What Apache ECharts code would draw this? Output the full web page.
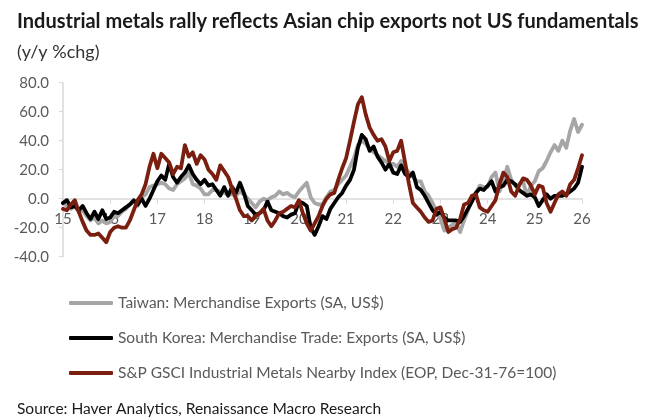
<!DOCTYPE html>
<html>
<head>
<meta charset="utf-8">
<script src="https://cdn.jsdelivr.net/npm/echarts@6/dist/echarts.min.js"></script>
<style>
  html, body { margin: 0; padding: 0; background: #fff; }
  #chart { width: 653px; height: 417px; }
</style>
</head>
<body>
<div id="chart"></div>
<script>
// monthly, Jan 2015 .. Jan 2026
const taiwan = [
  -3, -5, -7, -5, -9, -8, -12, -15, -13, -17, -15, -17,
  -16, -12, -12, -9, -7, -4, -2, -5, 1, 3, 8, 9,
  10, 11, 10, 7, 6, 10, 12, 14, 18, 10, 9, 7,
  3, 3, 6, 6, 5, 4, 3, 3, 2, 5, 3, 0,
  -3, -6, -2, 0, -1, 1, 2, 5, 3, 4, 2, 1,
  5, 8, 11, 1, -3, -4, -4, 1, 5, 6, 10, 13,
  16, 22, 28, 37, 40, 38, 34, 32, 30, 28, 26, 24,
  24, 22, 26, 21, 18, 15, 12, 12, 5, 2, -3, -9,
  -14, -22, -20, -18, -17, -23, -15, -8, -1, 4, 9, 8,
  8, 15, 18, 5, 12, 22, 13, 9, 10, 12, 2, 9,
  12, 19, 21, 26, 32, 37, 33, 40, 35, 47, 55, 46,
  51
];
const korea = [
  -3, -1, -6, -5, -8, -5, -10, -14, -9, -14, -8, -14,
  -13, -9, -10, -8, -6, -4, -1, -4, 0, -5, 0, 6,
  12, 16, 13, 24, 15, 11, 15, 18, 23, 17, 13, 10,
  13, 9, 10, 6, 2, 8, 2, 8, 4, 11, 4, -5,
  -8, -11, -10, -8, -2, -8, -9, -10, -12, -13, -11, -10,
  -2, -3, -5, -20, -25, -19, -12, -14, -7, -3, 1, 4,
  9, 13, 20, 35, 44, 41, 33, 36, 29, 25, 20, 24,
  18, 17, 23, 17, 15, 18, 8, 6, 2, -3, -8, -11,
  -9, -13, -15, -15, -15, -16, -12, -7, -2, 4, 7, 6,
  9, 12, 5, 8, 9, 13, 12, 10, 6, 4, 2, 3,
  1, -5, -1, 3, 0, 2, 2, 2, 3, 5, 7, 11,
  22
];
const metals = [
  -7, -8, -4, -1, -9, -16, -22, -25, -25, -24, -27, -30,
  -23, -20, -19, -20, -20, -15, -8, -1, 3, 10, 22, 31,
  21, 31, 28, 25, 17, 22, 21, 37, 29, 32, 24, 30,
  27, 20, 17, 13, 23, 19, 15, 7, 0, -8, -12, -12,
  -15, -12, -10, -7, -15, -19, -15, -10, -9, -7, -5, -6,
  -1, -10, -17, -22, -17, -12, -5, 0, 3, 4, 13, 21,
  28, 40, 53, 65, 70, 58, 49, 44, 40, 41, 36, 26,
  32, 33, 40, 25, 10, -3, -6, -9, -13, -16, -15, -7,
  -6, -14, -23, -21, -20, -14, -4, -3, 2, 3, -6, -8,
  -9, -5, -1, 10, 18, 15, 5, 2, 9, 14, 13, 9,
  3, 9, 8, -3, -9, -3, 3, 5, 2, 10, 13, 21,
  30
];

const months = [];
for (let y = 2015; y <= 2026; y++) {
  for (let m = 1; m <= 12; m++) {
    if (y === 2026 && m > 1) break;
    months.push(y + "-" + (m < 10 ? "0" + m : m));
  }
}

const yMin = -40, yMax = 80, yStep = 20;

const seriesNames = [
  "Taiwan: Merchandise Exports (SA, US$)",
  "South Korea: Merchandise Trade: Exports (SA, US$)",
  "S&P GSCI Industrial Metals Nearby Index (EOP, Dec-31-76=100)",
];
const seriesColors = ["#a6a6a6", "#000000", "#7a1f10"];

const FONT = "Lato";
const chart = echarts.init(document.getElementById("chart"), null, { renderer: "canvas" });

const isJan = (idx) => idx % 12 === 0;

// plot area
const gridTop = 82.7, gridBottom = 160.3;
const plotH = 417 - gridTop - gridBottom;
// move the category axis up to the zero line (onZero is not honoured here)
const zeroOffset = -plotH * (0 - yMin) / (yMax - yMin);

chart.setOption({
  animation: false,
  textStyle: { fontFamily: FONT },
  title: [
    {
      text: "Industrial metals rally reflects Asian chip exports not US fundamentals",
      left: 12, top: 7,
      textStyle: { fontFamily: FONT, fontSize: 20, fontWeight: "bold", color: "#1a1a1a" },
    },
    {
      text: "(y/y %chg)",
      left: 12, top: 38,
      textStyle: { fontFamily: FONT, fontSize: 18, fontWeight: "normal", color: "#333" },
    },
    {
      text: "Source: Haver Analytics, Renaissance Macro Research",
      left: 12, top: 396,
      textStyle: { fontFamily: FONT, fontSize: 15.5, fontWeight: "normal", color: "#1a1a1a" },
    },
  ],
  legend: {
    orient: "vertical",
    left: 64, top: 289,
    itemWidth: 44, itemHeight: 4, itemGap: 17,
    icon: "roundRect",
    textStyle: { fontFamily: FONT, fontSize: 15.5, color: "#595959", lineHeight: 18 },
    data: seriesNames,
  },
  grid: { left: 63, right: 71, top: gridTop, bottom: gridBottom, containLabel: false },
  xAxis: {
    type: "category",
    data: months,
    boundaryGap: false,
    offset: zeroOffset,
    axisLine: { onZero: false, lineStyle: { color: "#d9d9d9", width: 1.5 } },
    axisTick: { interval: (i) => isJan(i), length: 5, lineStyle: { color: "#d9d9d9" } },
    axisLabel: {
      interval: (i) => isJan(i),
      formatter: (v) => v.slice(2, 4),
      margin: 13,
      fontFamily: FONT, fontSize: 15, color: "#595959",
    },
    splitLine: { show: false },
  },
  yAxis: {
    type: "value",
    min: yMin, max: yMax, interval: yStep,
    axisLine: { show: true, lineStyle: { color: "#d9d9d9", width: 1.5 } },
    axisTick: { show: true, length: 4, lineStyle: { color: "#d9d9d9" } },
    axisLabel: {
      formatter: (v) => v.toFixed(1),
      margin: 14,
      fontFamily: FONT, fontSize: 15, color: "#595959",
    },
    splitLine: { show: false },
  },
  series: [taiwan, korea, metals].map((d, i) => ({
    name: seriesNames[i],
    type: "line",
    data: d,
    symbol: "none",
    lineStyle: { width: 3.8, color: seriesColors[i], join: "round", cap: "round" },
    itemStyle: { color: seriesColors[i] },
    z: 2 + i,
  })),
});
</script>
</body>
</html>
